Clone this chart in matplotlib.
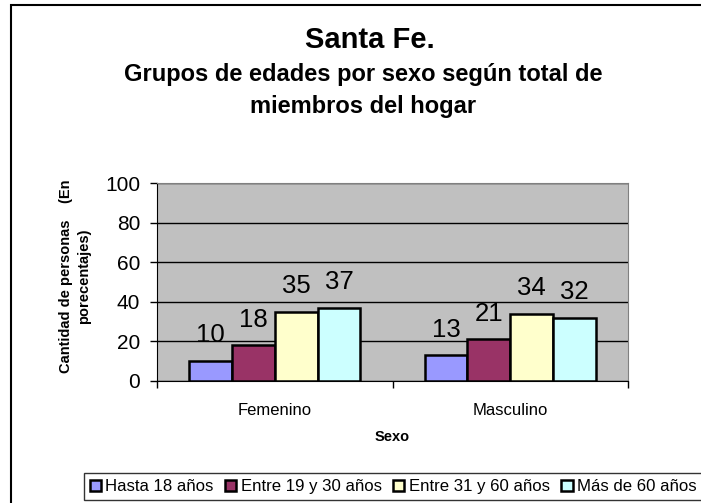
import matplotlib
matplotlib.use("Agg")
import matplotlib.pyplot as plt
from matplotlib.patches import Rectangle
import numpy as np

plt.rcParams["font.family"] = ["Liberation Sans", "DejaVu Sans"]

categories = ["Femenino", "Masculino"]
series_names = ["Hasta 18 años", "Entre 19 y 30 años", "Entre 31 y 60 años", "Más de 60 años"]
series_values = [
    [10, 13],
    [18, 21],
    [35, 34],
    [37, 32],
]
colors = ["#9999FF", "#993366", "#FFFFCC", "#CCFFFF"]
yticks = [0, 20, 40, 60, 80, 100]

W, H = 701, 503
fig = plt.figure(figsize=(W / 100, H / 100), dpi=100)
ax = fig.add_axes([157 / W, 1 - 381 / H, (628 - 157) / W, (381 - 183) / H])
ax.set_facecolor("#C0C0C0")

x = np.arange(len(categories))
bw = 0.182
for k, (name, vals) in enumerate(zip(series_names, series_values)):
    pos = x + (k - 1.5) * bw
    ax.bar(pos, vals, bw, color=colors[k], edgecolor="black",
           linewidth=1.8, label=name, zorder=3)
    for p, v in zip(pos, vals):
        ax.annotate(str(v), (p, v), xytext=(0, 13.5), textcoords="offset points",
                    ha="center", va="baseline", fontsize=18.5)

ax.set_xlim(-0.5, 1.5)
ax.set_ylim(0, 100)
ax.set_yticks(yticks)
ax.yaxis.grid(True, color="black", linewidth=1, zorder=0)
ax.set_axisbelow(True)
ax.tick_params(axis="y", direction="out", length=5, width=1, labelsize=15, pad=7)
ax.set_xticks(x)
ax.set_xticklabels(categories, fontsize=12)
ax.set_xticks([-0.5, 0.5, 1.5], minor=True)
ax.tick_params(axis="x", which="major", length=0, pad=16)
ax.tick_params(axis="x", which="minor", direction="out", length=5, width=1)
for s in ["top", "right"]:
    ax.spines[s].set_color("#808080")
for s in ["left", "bottom"]:
    ax.spines[s].set_color("black")

fig.text(370 / W, 1 - 40 / H, "Santa Fe.", ha="center", va="center",
         fontsize=21, fontweight="bold")
fig.text(363 / W, 1 - 74 / H, "Grupos de edades por sexo según total de",
         ha="center", va="center", fontsize=17, fontweight="bold")
fig.text(363 / W, 1 - 106 / H, "miembros del hogar",
         ha="center", va="center", fontsize=17, fontweight="bold")
fig.text(75 / W, 1 - 276 / H, "Cantidad de personas    (En\nporecentajes)",
         rotation=90, ha="center", va="center", fontsize=10.5, fontweight="bold",
         multialignment="center", linespacing=1.35)
fig.text(392 / W, 1 - 437 / H, "Sexo", ha="center", va="center",
         fontsize=10.5, fontweight="bold")

fig.patches.append(Rectangle((11 / W, -0.1), 1.2, 1 - 5 / H + 0.1,
                             transform=fig.transFigure, fill=False,
                             edgecolor="black", linewidth=1.5))

leg = fig.legend(loc="lower left", bbox_to_anchor=(84 / W, 3 / H), ncol=4,
                 fontsize=12.1, frameon=True, fancybox=False, handlelength=0.66,
                 handleheight=0.66, handletextpad=0.25, columnspacing=0.7,
                 borderpad=0.35, borderaxespad=0)
leg.get_frame().set_edgecolor("black")
leg.get_frame().set_linewidth(1)

fig.savefig("out.png", dpi=100)
